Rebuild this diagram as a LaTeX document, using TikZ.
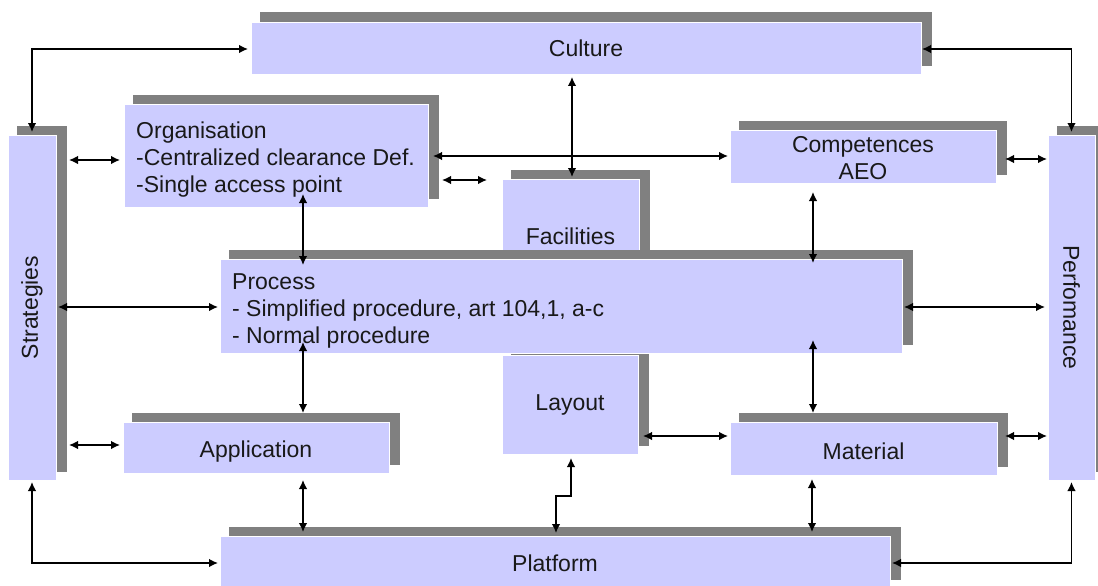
\documentclass[tikz,border=0pt]{standalone}
\usepackage{fontspec}
\setmainfont{Liberation Sans}
\usetikzlibrary{arrows.meta,calc}

\definecolor{facecol}{RGB}{204,204,255}
\definecolor{shadecol}{RGB}{128,128,128}

\tikzset{
  labelfont/.style={font=\fontsize{23}{27}\selectfont, text=black!90, inner sep=0pt},
  panel/.style={rectangle, fill=facecol, draw=white, line width=0.8pt,
    inner sep=0pt, outer sep=0pt},
  link/.style={draw=black, line width=1.4pt,
    {Latex[length=9pt,width=8.5pt]}-{Latex[length=9pt,width=8.5pt]}}
}

% #1 name, #2,#3 top-left, #4,#5 bottom-right (pixel units), #6 label spec
\newcommand\shadedpanel[6]{%
  \fill[shadecol] (#2+9,#3-9.5) rectangle (#4+10.5,#5-8);
  \node[panel, anchor=north west, minimum width={#4-#2}, minimum height={#5-#3}, label={#6}]
    (#1) at (#2,#3) {};
}

\begin{document}
\begin{tikzpicture}[x=1pt,y=-1pt]
\clip (0,0) rectangle (1098,586);
\fill[white] (0,0) rectangle (1098,586);

% boxes
\shadedpanel{cult}{251}{22}{921}{74}{[labelfont, yshift=-0.5pt]center:Culture}
\shadedpanel{org}{124}{104}{428}{207}{[labelfont, align=left, anchor=west, xshift=12pt, yshift=-4pt]west:{Organisation\\-Centralized clearance Def.\\-Single access point}}
\shadedpanel{strat}{8}{135}{56}{480}{[labelfont, rotate=90]center:Strategies}
\shadedpanel{comp}{730}{130}{996}{183}{[labelfont, align=center, yshift=-2pt]center:{Competences\\AEO}}
\shadedpanel{perf}{1048}{135}{1095}{480}{[labelfont, rotate=-90]center:Perfomance}
\shadedpanel{fac}{502}{179}{639}{291}{[labelfont, yshift=-1pt]center:Facilities}
\shadedpanel{lay}{502}{355}{638}{454}{[labelfont]center:Layout}
\shadedpanel{app}{123}{422}{389}{473}{[labelfont, yshift=-4pt]center:Application}
\shadedpanel{mat}{730}{422}{997}{475}{[labelfont, yshift=-3pt]center:Material}
\shadedpanel{plat}{220}{536}{890}{588}{[labelfont, yshift=-1.5pt]center:Platform}
\shadedpanel{proc}{220}{259}{902}{353}{[labelfont, align=left, anchor=west, xshift=12pt, yshift=-4.5pt]west:{Process\\- Simplified procedure, art 104,1, a-c\\- Normal procedure}}

% connectors
\draw[link] ($(cult.west)+(-3,1)$) -| ($(strat.north)+(0,-3)$);
\draw[link] ($(cult.east)+(1,1)$) -| ($(perf.north)+(0,-3)$);
\draw[link] ($(strat.east |- org.west)+(13,4.5)$) -- ($(org.west)+(-4,4.5)$);
\draw[link] ($(strat.east |- proc.west)+(2,1)$) -- ($(proc.west)+(-2,1)$);
\draw[link] ($(strat.east |- app.west)+(13,-2.5)$) -- ($(app.west)+(-3,-2.5)$);
\draw[link] ($(strat.south)+(0,2)$) |- ($(plat.west)+(-2,1)$);
\draw[link] ($(plat.east)+(2,1)$) -| ($(perf.south)+(0,2)$);
\draw[link] ($(org.east)+(5,0.5)$) -- ($(comp.west |- org.east)+(-2,0.5)$);
\draw[link] ($(cult.south -| fac.north)+(1.5,3)$) -- ($(fac.north)+(1.5,-2)$);
\draw[link] ($(org.east)+(14,24.5)$) -- ($(fac.west |- org.east)+(-15,24.5)$);
\draw[link] ($(org.south)+(27,-13)$) -- ($(proc.north -| org.south)+(27,6)$);
\draw[link] ($(proc.south -| app.north)+(47,-11)$) -- ($(app.north)+(47,-9)$);
\draw[link] ($(comp.south)+(-50,9)$) -- ($(proc.north -| comp.south)+(-50,4)$);
\draw[link] ($(proc.south -| mat.north)+(-50.5,-13)$) -- ($(mat.north)+(-50.5,-9)$);
\draw[link] ($(proc.east)+(2,1)$) -- ($(perf.west)+(-3,-0.5)$);
\draw[link] ($(comp.east)+(9,2.5)$) -- ($(perf.west |- comp.east)+(-1,2.5)$);
\draw[link] ($(mat.east)+(8,-12.5)$) -- ($(perf.west |- mat.east)+(-1,-12.5)$);
\draw[link] ($(lay.east)+(5,31.5)$) -- ($(mat.west |- lay.east)+(-2,31.5)$);
\draw[link] ($(mat.south)+(-51.5,4)$) -- ($(plat.north -| mat.south)+(-51.5,-4)$);
\draw[link] ($(app.south)+(47,7)$) -- ($(plat.north -| app.south)+(47,-4)$);
\draw[link] ($(lay.south)+(1,4)$) |- ($(plat.north)+(1,-40)$) -- ($(plat.north)+(1,-3)$);
\end{tikzpicture}
\end{document}
